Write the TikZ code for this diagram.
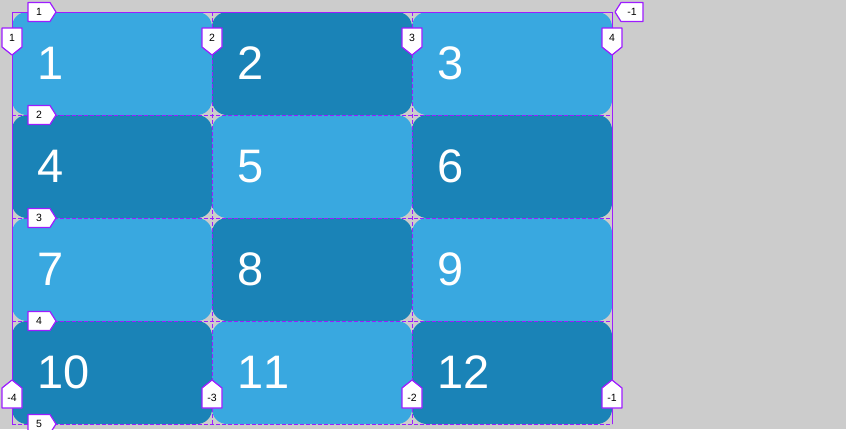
\documentclass[tikz,border=0pt]{standalone}
\usepackage{fontspec}
\setmainfont[Kerning=Off]{Liberation Sans}
\definecolor{bgc}{HTML}{CCCCCC}
\definecolor{lite}{HTML}{39A8E0}
\definecolor{darkc}{HTML}{1A83B7}
\definecolor{gridc}{HTML}{9D1CFF}
\tikzset{
  cellbox/.style={rectangle, rounded corners=15pt, minimum width=200pt, minimum height=103pt, inner sep=0pt, draw=none},
  numtext/.style={anchor=base west, inner sep=0pt, text=white, font=\fontsize{47}{50}\selectfont},
  solidline/.style={draw=gridc, line width=1pt},
  dashline/.style={draw=gridc, line width=1pt, dash pattern=on 4pt off 2pt},
  lab/.style={draw=gridc, fill=white, line width=1.2pt, line join=round},
  labtext/.style={inner sep=0pt, font=\fontsize{10.5}{12}\selectfont, text=black}
}
\newcommand\labR[3]{%
  \draw[lab] (28,#2-9.5) -- (50,#2-9.5) -- (56,#2) -- (50,#2+9.5) -- (28,#2+9.5) -- cycle;
  \node[labtext] (#1) at (39,#2) {#3};}
\newcommand\labD[3]{%
  \draw[lab] (#2-10,28) -- (#2+10,28) -- (#2+10,47) -- (#2,55) -- (#2-10,47) -- cycle;
  \node[labtext] (#1) at (#2,38) {#3};}
\newcommand\labU[3]{%
  \draw[lab] (#2-10,408) -- (#2+10,408) -- (#2+10,388) -- (#2,380) -- (#2-10,388) -- cycle;
  \node[labtext] (#1) at (#2,397.5) {#3};}
\begin{document}
\begin{tikzpicture}[x=1pt,y=-1pt]
\fill[bgc] (0,0) rectangle (846,429);
\useasboundingbox (0,0) rectangle (846,429);
% cells
\foreach \r/\ty in {0/12,1/115,2/218,3/321}{
  \foreach \c/\lx in {0/12,1/212,2/412}{
    \pgfmathtruncatemacro\cellnum{\r*3+\c+1}
    \pgfmathtruncatemacro\parity{mod(\r+\c,2)}
    \ifnum\parity=0 \def\cc{lite}\else\def\cc{darkc}\fi
    \node[cellbox, fill=\cc] (cell\cellnum) at (\lx+100,\ty+51.5) {};
    \node[numtext] (num\cellnum) at (\lx+25,\ty+67.5) {\cellnum};
  }
}
% grid lines
\draw[solidline] (12,424) -- (12,12) -- (612,12) -- (612,424);
\draw[dashline] (12,424) -- (612,424);
\foreach \x in {212,412}{\draw[dashline] (\x,12) -- (\x,424);}
\foreach \y in {115,218,321}{\draw[dashline] (12,\y) -- (612,\y);}
% labels
\labR{r1}{12}{1}
\labR{r2}{115}{2}
\labR{r3}{218}{3}
\labR{r4}{321}{4}
\labR{r5}{424}{5}
\labD{c1}{12}{1}
\labD{c2}{212}{2}
\labD{c3}{412}{3}
\labD{c4}{612}{4}
\labU{cm4}{12}{-4}
\labU{cm3}{212}{-3}
\labU{cm2}{412}{-2}
\labU{cm1}{612}{-1}
\draw[lab] (615,12) -- (621,2.5) -- (643,2.5) -- (643,21.5) -- (621,21.5) -- cycle;
\node[labtext] (rm1) at (632,12) {-1};
\end{tikzpicture}
\end{document}
